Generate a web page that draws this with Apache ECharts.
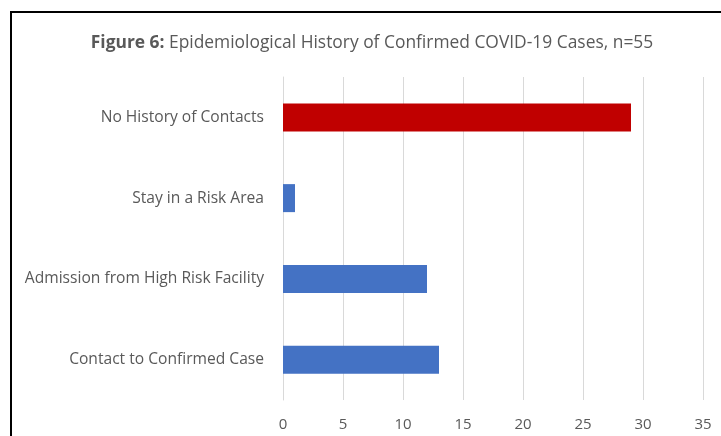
<!DOCTYPE html>
<html>
<head>
<meta charset="utf-8">
<script src="https://cdn.jsdelivr.net/npm/echarts@6/dist/echarts.min.js"></script>
<style>
html,body{margin:0;padding:0;background:#fff;}
#chart{width:721px;height:436px;}
</style>
</head>
<body>
<div id="chart"></div>
<script>
var categories = ["Contact to Confirmed Case", "Admission from High Risk Facility", "Stay in a Risk Area", "No History of Contacts"];
var values = [13, 12, 1, 29];
var barColors = ["#4472C4", "#4472C4", "#4472C4", "#C00000"];
var xTicks = [0, 5, 10, 15, 20, 25, 30, 35];

var FONT = "Open Sans";
var chart = echarts.init(document.getElementById('chart'), null, {renderer: 'canvas'});
chart.setOption({
  animation: false,
  backgroundColor: '#fff',
  graphic: [{
    type: 'rect',
    shape: {x: 11, y: 12, width: 800, height: 500},
    style: {fill: 'none', stroke: '#000', lineWidth: 2},
    silent: true
  }],
  title: {
    text: '{b|Figure 6:} Epidemiological History of Confirmed COVID-19 Cases, n=55',
    left: 367,
    textAlign: 'center',
    top: 30,
    textStyle: {
      fontFamily: FONT, fontSize: 17.4, fontWeight: 'normal', color: '#595959',
      rich: {b: {fontFamily: FONT, fontSize: 17.4, fontWeight: 'bold', color: '#595959'}}
    }
  },
  grid: {left: 283, right: 18, top: 77, bottom: 36, containLabel: false},
  xAxis: {
    type: 'value', min: xTicks[0], max: xTicks[xTicks.length - 1], interval: 5,
    axisLine: {show: false}, axisTick: {show: false},
    splitLine: {show: true, lineStyle: {color: '#d9d9d9', width: 1}},
    axisLabel: {margin: 17, fontFamily: FONT, fontSize: 15, color: '#595959'}
  },
  yAxis: {
    type: 'category', data: categories,
    axisLine: {show: true, lineStyle: {color: '#d9d9d9'}}, axisTick: {show: false},
    axisLabel: {margin: 19, fontFamily: FONT, fontSize: 15.6, color: '#595959', padding: [3, 0, 0, 0]}
  },
  series: [{
    type: 'bar',
    data: values.map(function (v, i) { return {value: v, itemStyle: {color: barColors[i]}}; }),
    barWidth: 28
  }]
});
</script>
</body>
</html>
